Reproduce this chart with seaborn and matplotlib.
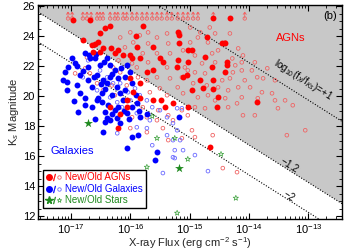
import numpy as np
import pandas as pd
import matplotlib
matplotlib.use("Agg")
import matplotlib.pyplot as plt
import seaborn as sns
from matplotlib.path import Path
from matplotlib.markers import MarkerStyle
from matplotlib.lines import Line2D
from matplotlib.legend_handler import HandlerTuple
from matplotlib.ticker import FixedLocator, LogLocator, MultipleLocator, NullFormatter, LogFormatterMathtext

# ---------------- data (log10 X-ray flux, Ks magnitude) ----------------
new_agn_logfx = [-16.97, -16.68, -14.60, -14.32, -16.34, -15.79, -16.43, -16.51, -16.55, -16.60,
                 -16.65, -16.80, -16.63, -16.51, -16.46, -16.32, -16.20, -16.26, -16.12, -16.00,
                 -15.89, -15.97, -15.84, -15.62, -15.50, -15.45, -15.62, -15.72, -16.00, -15.84,
                 -15.95, -15.84, -16.06, -15.62, -15.48, -15.28, -15.42, -16.34, -16.05, -16.17,
                 -15.20, -15.18, -15.18, -15.03, -14.96, -14.71, -14.45, -14.40, -14.74, -15.20,
                 -15.03, -15.21, -14.37, -14.37, -15.11, -15.05, -14.62, -14.40, -14.82, -14.60,
                 -14.96, -14.60, -14.77, -14.52, -13.86, -14.54, -15.03, -14.66, -16.20, -15.90]
new_agn_ks = [25.13, 25.10, 25.20, 25.20, 24.73, 24.73, 24.53, 24.20, 23.60, 23.50,
              23.40, 23.73, 22.93, 22.93, 23.20, 23.25, 23.07, 22.87, 22.73, 22.73,
              23.27, 22.53, 22.53, 23.27, 22.53, 22.27, 21.73, 21.60, 21.20, 20.87,
              20.27, 19.87, 19.73, 19.73, 19.73, 19.53, 19.27, 19.27, 19.27, 18.80,
              24.27, 24.10, 23.53, 23.07, 23.07, 23.93, 23.53, 23.53, 22.60, 22.40,
              22.27, 21.93, 22.27, 22.07, 21.27, 21.40, 21.93, 21.60, 21.07, 21.07,
              20.40, 20.47, 20.53, 19.93, 19.60, 19.27, 19.27, 16.60, 17.87, 24.00]

old_agn_logfx = [-14.82, -14.86, -14.69, -14.99, -15.11, -14.52, -14.62, -14.91, -14.79, -14.57,
                 -14.28, -14.23, -14.12, -14.12, -14.27, -13.95, -13.86, -13.76, -14.07, -14.18,
                 -13.98, -14.35, -14.45, -14.74, -14.91, -15.08, -15.13, -14.94, -14.71, -14.52,
                 -14.86, -14.69, -15.11, -14.40, -14.12, -14.20, -13.78, -13.61, -13.56, -13.39,
                 -13.51, -13.90, -14.10, -14.35, -14.74, -14.91, -15.13, -15.03, -13.56, -13.69,
                 -13.90, -14.10, -14.18, -14.40, -14.57, -14.32, -14.66, -14.99, -15.16, -15.03,
                 -15.20, -14.57, -14.32, -13.85, -13.26,
                 -16.17, -16.00, -15.84, -15.70, -15.55, -15.38, -15.36, -15.70, -15.95, -16.09,
                 -15.79, -15.55, -15.33, -15.38, -15.55, -15.72, -15.33, -15.50, -15.67, -15.38,
                 -15.87, -16.29, -16.17, -15.89, -16.06, -16.26, -16.46, -16.56, -16.76, -16.68,
                 -15.79, -15.53, -15.36, -15.72, -15.97, -15.55, -15.28, -16.20, -15.97, -15.70,
                 -16.31, -16.73, -16.93,
                 -16.00, -15.72, -15.45, -15.36, -14.91, -14.96, -14.61, -14.44, -14.20, -13.36,
                 -13.05, -15.13]
old_agn_ks = [24.27, 23.93, 23.60, 23.60, 23.07, 23.07, 22.87, 22.73, 22.20, 22.27,
              22.53, 22.07, 22.27, 21.73, 21.60, 21.73, 21.27, 21.20, 21.07, 20.60,
              20.60, 20.40, 21.07, 21.53, 21.60, 21.93, 21.27, 20.87, 20.73, 20.60,
              19.93, 20.07, 20.20, 19.87, 19.93, 19.53, 20.27, 20.20, 19.73, 19.73,
              19.20, 18.73, 18.73, 19.27, 19.20, 19.27, 19.07, 18.73, 21.07, 21.87,
              22.27, 22.73, 23.20, 23.60, 24.20, 24.20, 24.60, 24.60, 24.20, 21.73,
              20.60, 19.73, 21.20, 19.87, 19.40,
              23.93, 24.27, 24.07, 24.27, 23.93, 24.20, 23.53, 23.53, 23.60, 23.27,
              22.87, 22.87, 22.87, 21.93, 21.27, 21.07, 21.20, 20.53, 20.27, 20.07,
              21.27, 21.93, 21.60, 21.93, 20.73, 20.07, 20.40, 20.87, 21.87, 21.53,
              19.27, 19.07, 18.73, 18.60, 18.60, 18.40, 18.40, 22.40, 22.20, 22.27,
              20.73, 22.60, 21.53,
              17.87, 17.60, 17.87, 17.07, 17.27, 17.73, 17.40, 15.20, 14.93, 17.40,
              17.73, 17.20]

# Ks lower limits (sources at the faint limit, drawn with up arrows)
lim_logfx = [-17.05, -16.98, -16.80, -16.73, -16.66, -16.56, -16.51, -16.46, -16.34, -16.26,
             -16.21, -16.12, -16.06, -15.97, -15.89, -15.80, -15.72, -15.63, -15.55, -15.47,
             -15.38, -15.30, -15.20, -15.11, -15.03, -14.94, -14.86, -14.60, -14.07]
lim_ks = [25.2] * len(lim_logfx)

new_gal_logfx = [-16.98, -17.05, -17.10, -17.07, -17.07, -16.90, -16.93, -16.85, -16.76, -16.68,
                 -16.71, -16.60, -16.51, -16.71, -16.65, -16.76, -16.76, -16.88, -16.56, -16.48,
                 -16.39, -16.34, -16.26, -16.34, -16.22, -16.17, -16.12, -16.38, -16.43, -16.26,
                 -16.39, -16.34, -16.22, -16.06, -15.97, -15.89, -16.09, -16.00, -16.20, -16.56,
                 -16.46, -16.09, -15.97, -15.84, -16.17, -16.46, -15.97, -15.87, -16.06, -15.55,
                 -15.58, -15.18, -17.13,
                 -16.90, -16.80, -16.62, -16.50, -16.42, -16.30, -16.55, -16.65, -16.48, -16.20,
                 -16.10, -16.02, -16.30, -16.42, -16.60, -16.15, -16.05, -16.40, -16.45, -16.85,
                 -16.95, -16.30, -15.90, -15.85, -15.72, -16.70, -16.58]
new_gal_ks = [22.53, 21.93, 21.60, 20.93, 20.40, 20.73, 22.20, 21.40, 22.87, 22.53,
              21.93, 22.53, 22.07, 21.07, 20.60, 19.87, 19.40, 18.93, 19.73, 20.20,
              20.87, 21.27, 21.73, 22.07, 20.60, 20.20, 19.73, 19.40, 18.93, 19.07,
              18.53, 18.40, 18.53, 18.87, 19.27, 19.53, 21.27, 21.60, 21.20, 21.40,
              21.07, 20.40, 20.87, 18.60, 18.20, 17.60, 17.27, 17.40, 16.53, 16.27,
              15.73, 18.60, 21.07,
              22.00, 21.70, 21.30, 20.80, 20.50, 20.10, 19.90, 19.30, 19.60, 19.30,
              19.00, 18.50, 18.80, 18.25, 18.50, 21.90, 22.10, 22.55, 22.30, 20.20,
              19.70, 21.50, 20.10, 19.00, 18.80, 22.75, 22.80]

old_gal_logfx = [-16.51, -16.39, -16.29, -16.17, -16.04, -15.92, -15.84, -15.72, -15.63, -15.50,
                 -15.38, -15.28, -16.00, -16.14, -15.89, -15.67, -16.80, -16.71, -16.56, -16.34,
                 -16.22, -16.22, -15.89, -15.72, -15.38, -15.45, -15.28, -15.63, -15.28, -15.25,
                 -15.11, -14.91, -14.69, -15.16, -15.25, -15.21, -15.21, -15.13]
old_gal_ks = [21.73, 21.27, 20.87, 20.87, 20.27, 20.53, 20.07, 19.73, 19.27, 19.07,
              18.60, 18.20, 19.73, 19.27, 18.87, 18.40, 21.27, 22.40, 20.40, 19.93,
              19.60, 17.53, 17.93, 17.87, 17.40, 14.87, 15.93, 16.73, 17.07, 16.40,
              16.40, 16.07, 15.00, 17.07, 15.87, 17.73, 19.20, 19.20]

new_star_logfx = [-16.71, -15.18]
new_star_ks = [18.20, 15.20]
old_star_logfx = [-15.55, -15.72, -14.47, -15.03, -14.22, -15.21, -15.63, -15.25]
old_star_ks = [17.20, 15.27, 16.13, 15.80, 13.20, 12.20, 18.67, 17.20]

x_tick_values = [1e-17, 1e-16, 1e-15, 1e-14, 1e-13]
ratio_values = [1.0, -1.2, -2.0]
ratio_labels = [r"log$_{10}$(f$_X$/f$_{Ks}$)=+1", r"$-$1.2", r"$-$2"]
KS_ZP = -15.25  # Ks = KS_ZP + 2.5*ratio - 2.5*log10(fx)

# ---------------- style ----------------
sns.set_style("ticks")
plt.rcParams.update({
    "font.family": ["Liberation Sans", "DejaVu Sans"],
    "mathtext.fontset": "custom",
    "mathtext.rm": "Liberation Sans",
    "mathtext.it": "Liberation Sans:italic",
    "mathtext.bf": "Liberation Sans:bold",
    "font.size": 8,
    "axes.linewidth": 1.0,
    "xtick.direction": "in", "ytick.direction": "in",
    "xtick.top": True, "ytick.right": True,
    "xtick.major.size": 4, "ytick.major.size": 4,
    "xtick.minor.size": 2, "ytick.minor.size": 2,
    "xtick.major.width": 0.8, "ytick.major.width": 0.8,
    "xtick.minor.width": 0.6, "ytick.minor.width": 0.6,
    "xtick.minor.visible": True, "ytick.minor.visible": True,
    "xtick.color": "black", "ytick.color": "black",
    "axes.edgecolor": "black",
})

RED, RED_OLD = "#ff0000", "#f06464"
BLUE, BLUE_OLD = "#0000ff", "#6a6aff"
GREEN, GREEN_OLD = "#1f8a1f", "#3aa03a"
GRAY = "#c8c8c8"

fig = plt.figure(figsize=(3.5, 2.5), dpi=100)
ax = fig.add_axes([38 / 350, 1 - 219 / 250, (342 - 38) / 350, (219 - 5) / 250])

xmin, xmax = 10 ** -17.556, 10 ** -12.43
ymin, ymax = 11.8, 26.1


def ks_line(r, fx):
    return KS_ZP + 2.5 * r - 2.5 * np.log10(fx)


xs = np.logspace(np.log10(xmin), np.log10(xmax), 200)
ax.fill_between(xs, ks_line(-1.2, xs), 30, color=GRAY, lw=0, zorder=0)
for r in ratio_values:
    ax.plot(xs, ks_line(r, xs), ls=(0, (1, 1.5)), color="black", lw=0.8, zorder=1)


def df(lx, ks):
    return pd.DataFrame({"fx": 10 ** np.asarray(lx), "ks": ks})


# arrow marker (points upward from the data position)
arrow = Path([(0, 0), (0, 1), (-0.28, 0.62), (0, 1), (0.28, 0.62)],
             [Path.MOVETO, Path.LINETO, Path.MOVETO, Path.LINETO, Path.LINETO])
arrow_marker = MarkerStyle(arrow)

sns.scatterplot(data=df(lim_logfx, lim_ks), x="fx", y="ks", ax=ax, marker=arrow_marker,
                s=80, color=RED_OLD, facecolor="none", edgecolor=RED_OLD, linewidth=0.6, zorder=2)
sns.scatterplot(data=df(lim_logfx, lim_ks), x="fx", y="ks", ax=ax, marker="o",
                s=6, color=RED_OLD, facecolor="none", edgecolor=RED_OLD, linewidth=0.6, zorder=2)
sns.scatterplot(data=df(old_agn_logfx, old_agn_ks), x="fx", y="ks", ax=ax, marker="o",
                s=7, color=RED_OLD, facecolor="none", edgecolor=RED_OLD, linewidth=0.6, zorder=2)
sns.scatterplot(data=df(old_gal_logfx, old_gal_ks), x="fx", y="ks", ax=ax, marker="o",
                s=7, color=BLUE_OLD, facecolor="none", edgecolor=BLUE_OLD, linewidth=0.6, zorder=2)
sns.scatterplot(data=df(old_star_logfx, old_star_ks), x="fx", y="ks", ax=ax, marker="*",
                s=16, color=GREEN_OLD, facecolor="none", edgecolor=GREEN_OLD, linewidth=0.5, zorder=2)
sns.scatterplot(data=df(new_gal_logfx, new_gal_ks), x="fx", y="ks", ax=ax, marker="o",
                s=18, color=BLUE, edgecolor=BLUE, linewidth=0, zorder=3)
sns.scatterplot(data=df(new_agn_logfx, new_agn_ks), x="fx", y="ks", ax=ax, marker="o",
                s=18, color=RED, edgecolor=RED, linewidth=0, zorder=3)
sns.scatterplot(data=df(new_star_logfx, new_star_ks), x="fx", y="ks", ax=ax, marker="*",
                s=45, color=GREEN, edgecolor=GREEN, linewidth=0, zorder=3)

ax.set_xscale("log")
ax.set_xlim(xmin, xmax)
ax.set_ylim(ymin, ymax)
ax.xaxis.set_major_locator(FixedLocator(x_tick_values))
ax.xaxis.set_major_formatter(LogFormatterMathtext())
ax.xaxis.set_minor_locator(LogLocator(base=10, subs=np.arange(2, 10), numticks=15))
ax.xaxis.set_minor_formatter(NullFormatter())
ax.yaxis.set_major_locator(MultipleLocator(2))
ax.yaxis.set_minor_locator(MultipleLocator(0.5))
ax.tick_params(axis="both", which="major", labelsize=8, pad=2)

ax.set_xlabel(r"X-ray Flux (erg cm$^{-2}$ s$^{-1}$)", fontsize=8, labelpad=0)
ax.set_ylabel(r"K$_s$ Magnitude", fontsize=8, labelpad=1)

# line labels
lab_x = [10 ** -13.09, 10 ** -13.31, 10 ** -13.31]
lab_off = [1.15, 0.45, 0.38]
for r, t, lx, off in zip(ratio_values, ratio_labels, lab_x, lab_off):
    ax.text(lx, ks_line(r, lx) + off, t, rotation=-32, rotation_mode="anchor",
            ha="center", va="center", fontsize=7, color="black", zorder=4)

ax.text(0.96, 0.95, "(b)", transform=ax.transAxes, ha="center", va="center",
        fontsize=8, color="black")
ax.text(0.83, 0.845, "AGNs", transform=ax.transAxes, ha="center", va="center",
        fontsize=8, color=RED)
ax.text(0.112, 0.32, "Galaxies", transform=ax.transAxes, ha="center", va="center",
        fontsize=8, color=BLUE)

# legend
slash = dict(marker="$/$", ls="none", markersize=5, markeredgewidth=0.3)
h_agn = (Line2D([], [], marker="o", ls="none", color=RED, markersize=4),
         Line2D([], [], color=RED, **slash),
         Line2D([], [], marker="o", ls="none", markerfacecolor="none", markeredgecolor=RED_OLD,
                markersize=2.5, markeredgewidth=0.6))
h_gal = (Line2D([], [], marker="o", ls="none", color=BLUE, markersize=4),
         Line2D([], [], color=BLUE, **slash),
         Line2D([], [], marker="o", ls="none", markerfacecolor="none", markeredgecolor=BLUE_OLD,
                markersize=2.5, markeredgewidth=0.6))
h_star = (Line2D([], [], marker="*", ls="none", color=GREEN, markersize=5.5),
          Line2D([], [], color=GREEN, **slash),
          Line2D([], [], marker="*", ls="none", markerfacecolor="none", markeredgecolor=GREEN_OLD,
                 markersize=3.5, markeredgewidth=0.5))
leg = ax.legend([h_agn, h_gal, h_star], ["New/Old AGNs", "New/Old Galaxies", "New/Old Stars"],
                handler_map={tuple: HandlerTuple(ndivide=None, pad=0.0)},
                loc="lower left", bbox_to_anchor=(0.018, 0.05), fontsize=7,
                labelcolor=[RED, BLUE, GREEN], frameon=True, fancybox=False,
                framealpha=1, edgecolor="black", handlelength=1.6, handletextpad=0.3,
                borderpad=0.3, labelspacing=0.15, borderaxespad=0)
leg.get_frame().set_linewidth(1.0)
leg.set_zorder(5)

fig.savefig("out.png", dpi=100)
